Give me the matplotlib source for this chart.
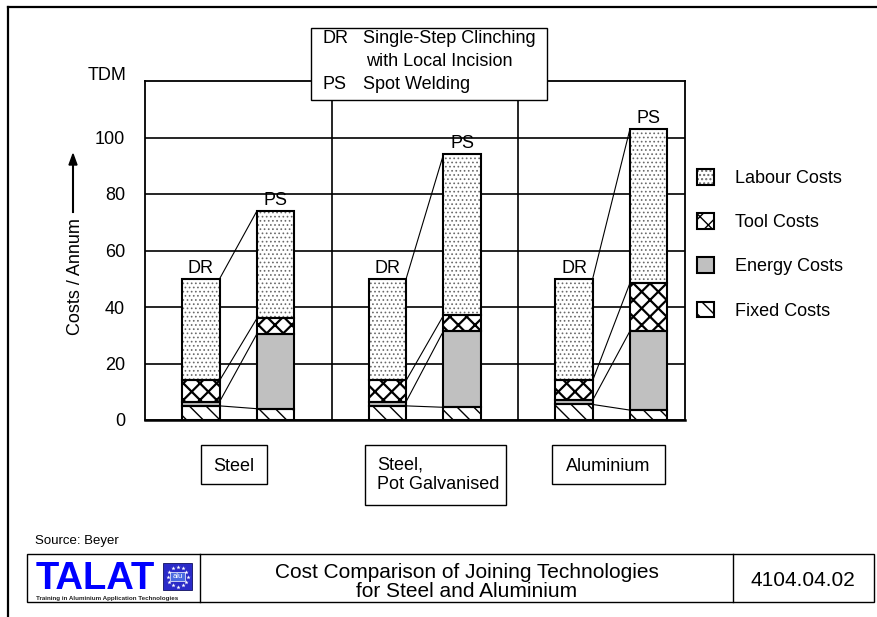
import numpy as np
import matplotlib
matplotlib.use('Agg')
import matplotlib.pyplot as plt
from matplotlib.patches import Rectangle
from matplotlib.lines import Line2D

plt.rcParams['font.family'] = ['Liberation Sans', 'DejaVu Sans']

# Costs per annum (TDM) for the three materials
groups = ['Steel', 'Steel,\nPot Galvanised', 'Aluminium']
component_names = ['Fixed Costs', 'Energy Costs', 'Tool Costs', 'Labour Costs']

# DR = single-step clinching, PS = spot welding
fixed_dr = [5.0, 5.0, 5.5]
energy_dr = [1.5, 1.5, 1.5]
tool_dr = [7.5, 7.5, 7.0]
labour_dr = [36.0, 36.0, 36.0]

fixed_ps = [4.0, 4.5, 3.5]
energy_ps = [26.5, 27.0, 28.0]
tool_ps = [5.5, 5.5, 17.0]
labour_ps = [38.0, 57.0, 54.5]

yticks = [0, 20, 40, 60, 80, 100]

W, H = 877, 617


def fx(px):
    return px / W


def fy(py):
    return 1 - py / H


fig = plt.figure(figsize=(W / 100, H / 100), dpi=100)
fig.patch.set_facecolor('white')
ax = fig.add_axes([fx(145), fy(420), fx(685) - fx(145), (420 - 81) / H])

# fill styles, bottom to top: fixed, energy, tool, labour
styles = [
    dict(facecolor='white', edgecolor='black', hatch='\\\\'),
    dict(facecolor='#c0c0c0', edgecolor='black', hatch=None),
    dict(facecolor='white', edgecolor='black', hatch='xx'),
    dict(facecolor='white', edgecolor='#6a6a6a', hatch='....'),
]
hatch_widths = [1.0, 1.0, 1.6, 0.7]

width = 0.2
gx = np.arange(len(groups))
dr_x = gx + 0.3
ps_x = gx + 0.7

dr_stack = np.array([fixed_dr, energy_dr, tool_dr, labour_dr])
ps_stack = np.array([fixed_ps, energy_ps, tool_ps, labour_ps])

handles = []
for xpos, stack in [(dr_x, dr_stack), (ps_x, ps_stack)]:
    bottom = np.zeros(len(groups))
    for i, vals in enumerate(stack):
        pat = ax.bar(xpos, vals, width, bottom=bottom, linewidth=0, zorder=3, **styles[i])
        for p in pat:
            if hasattr(p, 'set_hatch_linewidth'):
                p.set_hatch_linewidth(hatch_widths[i])
        out = ax.bar(xpos, vals, width, bottom=bottom, fill=False,
                     edgecolor='black', linewidth=1.5, zorder=4)
        if len(handles) < 4:
            handles.append((pat[0], out[0]))
        bottom = bottom + vals

# lines joining the matching layers of DR and PS
dr_cum = np.cumsum(dr_stack, axis=0)
ps_cum = np.cumsum(ps_stack, axis=0)
for g in range(len(groups)):
    for k in range(4):
        ax.plot([dr_x[g] + width / 2, ps_x[g] - width / 2], [dr_cum[k, g], ps_cum[k, g]],
                color='black', linewidth=0.8, zorder=2)
    ax.text(dr_x[g], dr_cum[-1, g] + 2, 'DR', ha='center', va='baseline', fontsize=13)
    ax.text(ps_x[g], ps_cum[-1, g] + 2.2, 'PS', ha='center', va='baseline', fontsize=13)

for d in gx[1:]:
    ax.axvline(d, color='black', linewidth=1.2, zorder=2)

ax.set_xlim(0, 2.895)
ax.set_ylim(0, 120)
ax.set_xticks([])
ax.set_yticks(yticks)
ax.tick_params(axis='y', length=0, pad=14.4, labelsize=13)
ax.yaxis.grid(True, color='black', linewidth=1.2)
ax.set_axisbelow(True)
for s in ax.spines.values():
    s.set_linewidth(1.3)
ax.spines['bottom'].set_linewidth(1.8)

# legend on the right
legend_order = [3, 2, 1, 0]
fig.legend([handles[i] for i in legend_order], [component_names[i] for i in legend_order],
           loc='upper left', bbox_to_anchor=(fx(697), fy(169)), frameon=False,
           fontsize=13, handlelength=0.95, handleheight=0.95, handletextpad=1.15,
           labelspacing=1.45, borderpad=0, borderaxespad=0)

# key for the abbreviations
fig.add_artist(Rectangle((fx(311), fy(100)), fx(547) - fx(311), 72 / H, transform=fig.transFigure,
                         facecolor='white', edgecolor='black', linewidth=1.0, zorder=5))
fig.text(fx(322), fy(43), 'DR', fontsize=13, va='baseline', zorder=6)
fig.text(fx(363), fy(43), 'Single-Step Clinching', fontsize=13, va='baseline', zorder=6)
fig.text(fx(366), fy(66), 'with Local Incision', fontsize=13, va='baseline', zorder=6)
fig.text(fx(322), fy(89), 'PS', fontsize=13, va='baseline', zorder=6)
fig.text(fx(363), fy(89), 'Spot Welding', fontsize=13, va='baseline', zorder=6)

# axis captions
fig.text(fx(126), fy(76), 'TDM', fontsize=13, ha='right', va='center')
fig.text(fx(76), fy(277), 'Costs / Annum', fontsize=13, rotation=90, ha='center', va='center')
fig.add_artist(Line2D([fx(73), fx(73)], [fy(212), fy(164)], transform=fig.transFigure,
                      color='black', linewidth=1.5))
fig.add_artist(plt.Polygon([[fx(69), fy(165)], [fx(77), fy(165)], [fx(73), fy(154)]],
                           closed=True, transform=fig.transFigure, color='black'))

# boxed material labels under the groups
label_boxes = [(201, 267, 484), (365, 506, 505), (552, 665, 484)]
for name, (x0, x1, y1) in zip(groups, label_boxes):
    fig.add_artist(Rectangle((fx(x0), fy(y1)), fx(x1) - fx(x0), (y1 - 445) / H,
                             transform=fig.transFigure, facecolor='white',
                             edgecolor='black', linewidth=1.0))
    lines = name.split('\n')
    if len(lines) == 1:
        fig.text(fx((x0 + x1) / 2), fy(471), name, fontsize=13, ha='center', va='baseline')
    else:
        fig.text(fx(377), fy(470), lines[0], fontsize=13, va='baseline')
        fig.text(fx(377), fy(489), lines[1], fontsize=13, va='baseline')

# page frame
fig.add_artist(Line2D([fx(8), 1], [fy(7), fy(7)], transform=fig.transFigure, color='black', linewidth=1.6))
fig.add_artist(Line2D([fx(8), fx(8)], [fy(7), 0], transform=fig.transFigure, color='black', linewidth=1.6))

fig.text(fx(35), fy(541), 'Source: Beyer', fontsize=9.5, va='center')

# footer
fig.add_artist(Rectangle((fx(27), fy(602)), fx(874) - fx(27), 48 / H, transform=fig.transFigure,
                         facecolor='white', edgecolor='black', linewidth=1.0))
for xd in [200, 733]:
    fig.add_artist(Line2D([fx(xd), fx(xd)], [fy(554), fy(602)], transform=fig.transFigure,
                          color='black', linewidth=1.0))
fig.text(fx(466.5), fy(578), 'Cost Comparison of Joining Technologies', fontsize=15,
         ha='center', va='baseline')
fig.text(fx(466.5), fy(597), 'for Steel and Aluminium', fontsize=15, ha='center', va='baseline')
fig.text(fx(803), fy(580), '4104.04.02', fontsize=15, ha='center', va='center')

# TALAT logo
fig.text(fx(36), fy(589), 'TALAT', fontsize=27.5, fontweight='bold', color='#0000ff', va='baseline')
fig.add_artist(Rectangle((fx(163), fy(590)), 29 / W, 27 / H, transform=fig.transFigure,
                         facecolor='#2a2ac8', edgecolor='#101060', linewidth=0.6))
ang = np.linspace(0, 2 * np.pi, 12, endpoint=False)
fig.add_artist(Line2D(fx(177.5 + 10 * np.cos(ang)), fy(576.5 + 10 * np.sin(ang)),
                      transform=fig.transFigure, linestyle='none', marker='*',
                      markersize=3.2, color='white', markeredgewidth=0))
fig.add_artist(Rectangle((fx(170), fy(581)), 15 / W, 9 / H, transform=fig.transFigure,
                         facecolor='#4a6ae0', edgecolor='white', linewidth=0.5))
fig.text(fx(177.5), fy(576.5), 'alu', fontsize=5.5, color='white', ha='center', va='center')
fig.text(fx(36), fy(600), 'Training in Aluminium Application Technologies', fontsize=4.5,
         fontweight='bold', color='#222222', va='baseline')

fig.savefig('out.png', dpi=100, facecolor='white')
